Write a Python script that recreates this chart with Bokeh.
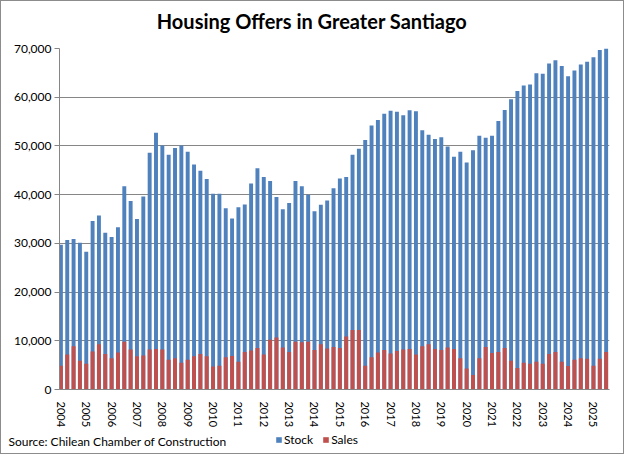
from bokeh.plotting import figure
from bokeh.layouts import column
from bokeh.models import (ColumnDataSource, FixedTicker, Label, Legend, LegendItem,
                          NumeralTickFormatter, Range1d)
from bokeh.embed import file_html
from bokeh.resources import INLINE

years = list(range(2004, 2026))
quarters = [f"{y}Q{q}" for y in years for q in range(1, 5)][:87]

stock = [29700, 30700, 30900, 30100, 28300, 34600, 35700, 32200, 31300, 33300,
         41700, 38700, 35000, 39600, 48600, 52700, 50100, 48200, 49600, 50100,
         48800, 46200, 44900, 43200, 40200, 40200, 37200, 35100, 37400, 38000,
         42300, 45400, 43600, 42800, 39500, 37000, 38300, 42800, 41700, 40000,
         36600, 37900, 38800, 41300, 43300, 43600, 48200, 49400, 51200, 54200,
         55300, 56600, 57200, 57000, 56300, 57300, 57100, 53200, 52300, 51400,
         51800, 49900, 47800, 48800, 46600, 49100, 52100, 51700, 52100, 55100,
         57400, 59600, 61300, 62400, 62600, 64900, 64800, 66900, 67600, 66400,
         64300, 65500, 66700, 67300, 68200, 69700, 70300]

sales = [4900, 7200, 8900, 5900, 5300, 7800, 9300, 7300, 6400, 7600,
         9800, 8200, 6800, 7000, 8200, 8300, 8200, 6100, 6400, 5500,
         6100, 6800, 7300, 6800, 4700, 4900, 6600, 6900, 5700, 7700,
         8000, 8500, 7200, 10200, 10700, 8600, 7700, 9800, 9700, 9800,
         8100, 9300, 8400, 8700, 8500, 10900, 12200, 12200, 4900, 6600,
         7600, 8100, 7400, 7900, 8200, 8300, 7200, 8900, 9300, 8300,
         8100, 8600, 8300, 6400, 4300, 3000, 6400, 8700, 7500, 7700,
         8500, 5900, 4400, 5500, 5300, 5700, 5300, 7300, 7700, 5700,
         4800, 6100, 6400, 6300, 4900, 6300, 7700]

tick_labels = [str(y) for y in years]
series_names = ["Stock", "Sales"]
series_fields = ["stock", "sales"]
series_colors = ["#4F81BD", "#C0504D"]
title_text = "Housing Offers in Greater Santiago"
source_text = "Source: Chilean Chamber of Construction"

W = 622
FONT = "Lato"

def strip(fig):
    fig.outline_line_color = None
    fig.background_fill_color = "white"
    fig.border_fill_color = "white"
    return fig

# ---- title strip ----
t = strip(figure(width=W, height=37, output_backend="svg", toolbar_location=None,
                 x_range=Range1d(0, W), y_range=Range1d(0, 37),
                 x_axis_type=None, y_axis_type=None, min_border=0,
                 frame_align=False))
t.grid.visible = False
t.add_layout(Label(x=310.5, y=18, x_units="screen", y_units="screen",
                   text=title_text, text_font=FONT, text_font_style="bold",
                   text_font_size="20px", text_align="center",
                   text_baseline="middle", text_color="black"))

# ---- main chart ----
idx = list(range(len(quarters)))
src = ColumnDataSource(dict(x=idx, q=quarters, stock=stock, sales=sales))

p = strip(figure(width=W, height=392, output_backend="svg", toolbar_location=None,
                 x_range=Range1d(-0.22, 86.53), y_range=Range1d(0, 70000),
                 min_border_left=58, min_border_right=14, min_border_top=10,
                 min_border_bottom=35, frame_align=False))

for f, c in zip(series_fields, series_colors):
    p.vbar(x="x", top=f, width=0.62, source=src, fill_color=c, line_color=None)

p.yaxis.ticker = FixedTicker(ticks=list(range(0, 70001, 10000)))
p.yaxis.formatter = NumeralTickFormatter(format="0,0")
p.yaxis.major_label_text_font = FONT
p.yaxis.major_label_text_font_size = "12px"
p.yaxis.major_label_text_color = "black"
p.yaxis.axis_line_color = "#868686"
p.yaxis.major_tick_line_color = "#868686"
p.yaxis.major_tick_out = 5
p.yaxis.major_tick_in = 0
p.yaxis.minor_tick_line_color = None
p.yaxis.major_label_standoff = 3

q1_pos = [i for i in idx if quarters[i].endswith("Q1")]
p.xaxis.ticker = FixedTicker(ticks=q1_pos)
p.xaxis.major_label_overrides = {i: tick_labels[k] for k, i in enumerate(q1_pos)}
p.xaxis.major_label_orientation = "vertical"
p.xaxis.major_label_text_font = FONT
p.xaxis.major_label_text_font_size = "11px"
p.xaxis.major_label_text_color = "black"
p.xaxis.axis_line_color = "#868686"
p.xaxis.major_tick_line_color = None
p.xaxis.minor_tick_line_color = None
p.xaxis.major_label_standoff = 6

p.xgrid.grid_line_color = None
p.ygrid.grid_line_color = "#868686"
p.ygrid.grid_line_width = 1

# ---- bottom strip: source note + legend ----
b = strip(figure(width=W, height=23, output_backend="svg", toolbar_location=None,
                 x_range=Range1d(0, W), y_range=Range1d(0, 23),
                 x_axis_type=None, y_axis_type=None, min_border=0,
                 frame_align=False))
b.grid.visible = False
# hidden copies of the series, used only as legend keys
key_renderers = [b.vbar(x="x", top=f, width=0.62, source=src, fill_color=c,
                        line_color=None, visible=False)
                 for f, c in zip(series_fields, series_colors)]
b.add_layout(Label(x=7, y=12, x_units="screen", y_units="screen",
                   text=source_text, text_font=FONT, text_font_size="12px",
                   text_align="left", text_baseline="middle", text_color="black"))
legend = Legend(items=[LegendItem(label=n, renderers=[r])
                       for n, r in zip(series_names, key_renderers)],
                orientation="horizontal", location=(274, 6),
                background_fill_alpha=0, border_line_color=None,
                inactive_fill_alpha=0,
                label_text_font=FONT, label_text_font_size="12px",
                label_text_color="black",
                glyph_width=7, glyph_height=7, label_standoff=2, spacing=9,
                padding=0, margin=0, label_height=12)
b.add_layout(legend)

layout = column(t, p, b, spacing=0,
                styles={"border": "1px solid #8c8c8c"})

open("out.html", "w").write(file_html(layout, INLINE))
